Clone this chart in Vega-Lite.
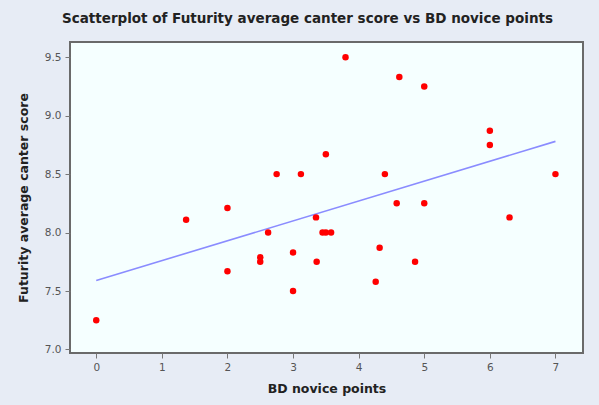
{
  "$schema": "https://vega.github.io/schema/vega-lite/v6.json",
  "autosize": "none",
  "width": 513,
  "height": 311,
  "padding": {"left": 70, "top": 42, "right": 16, "bottom": 52},
  "background": "#e7ecf5",
  "title": {
    "text": "Scatterplot of Futurity average canter score vs BD novice points",
    "font": "DejaVu Sans",
    "fontSize": 13.5,
    "fontWeight": "bold",
    "color": "#222222",
    "anchor": "middle",
    "dx": -19,
    "offset": 17
  },
  "config": {
    "view": {"fill": "#f5ffff", "stroke": "#6a6a6a", "strokeWidth": 2},
    "axis": {
      "grid": false,
      "domain": false,
      "tickColor": "#777777",
      "tickSize": 5,
      "labelColor": "#555555",
      "labelFont": "DejaVu Sans",
      "labelFontSize": 10.5,
      "titleFont": "DejaVu Sans",
      "titleFontSize": 12.5,
      "titleFontWeight": "bold",
      "titleColor": "#222222"
    }
  },
  "datasets": {
    "pts": [
      {"bd": 0, "score": 7.25},
      {"bd": 1.37, "score": 8.11},
      {"bd": 2.0, "score": 8.21},
      {"bd": 2.0, "score": 7.67},
      {"bd": 2.5, "score": 7.79},
      {"bd": 2.5, "score": 7.75},
      {"bd": 2.62, "score": 8.0},
      {"bd": 2.75, "score": 8.5},
      {"bd": 3.0, "score": 7.83},
      {"bd": 3.0, "score": 7.5},
      {"bd": 3.12, "score": 8.5},
      {"bd": 3.35, "score": 8.13},
      {"bd": 3.36, "score": 7.75},
      {"bd": 3.45, "score": 8.0},
      {"bd": 3.5, "score": 8.0},
      {"bd": 3.58, "score": 8.0},
      {"bd": 3.5, "score": 8.67},
      {"bd": 3.8, "score": 9.5},
      {"bd": 4.26, "score": 7.58},
      {"bd": 4.32, "score": 7.87},
      {"bd": 4.4, "score": 8.5},
      {"bd": 4.58, "score": 8.25},
      {"bd": 4.62, "score": 9.33},
      {"bd": 4.86, "score": 7.75},
      {"bd": 5.0, "score": 9.25},
      {"bd": 5.0, "score": 8.25},
      {"bd": 6.0, "score": 8.87},
      {"bd": 6.0, "score": 8.75},
      {"bd": 6.3, "score": 8.13},
      {"bd": 7.0, "score": 8.5}
    ],
    "fit": [
      {"bd": 0, "score": 7.59},
      {"bd": 7, "score": 8.78}
    ]
  },
  "layer": [
    {
      "data": {"name": "fit"},
      "mark": {"type": "line", "color": "#8a8cff", "strokeWidth": 1.6},
      "encoding": {
        "x": {"field": "bd", "type": "quantitative"},
        "y": {"field": "score", "type": "quantitative"}
      }
    },
    {
      "data": {"name": "pts"},
      "mark": {"type": "circle", "color": "#ff0000", "opacity": 1, "size": 42},
      "encoding": {
        "x": {
          "field": "bd",
          "type": "quantitative",
          "title": "BD novice points",
          "scale": {"domain": [-0.4, 7.42], "nice": false, "zero": false},
          "axis": {"values": [0, 1, 2, 3, 4, 5, 6, 7], "format": "d", "labelPadding": 4, "titleY": 29}
        },
        "y": {
          "field": "score",
          "type": "quantitative",
          "title": "Futurity average canter score",
          "scale": {"domain": [6.97, 9.63], "nice": false, "zero": false},
          "axis": {"values": [7.0, 7.5, 8.0, 8.5, 9.0, 9.5], "format": ".1f", "labelPadding": 4, "titleX": -40}
        }
      }
    }
  ]
}
